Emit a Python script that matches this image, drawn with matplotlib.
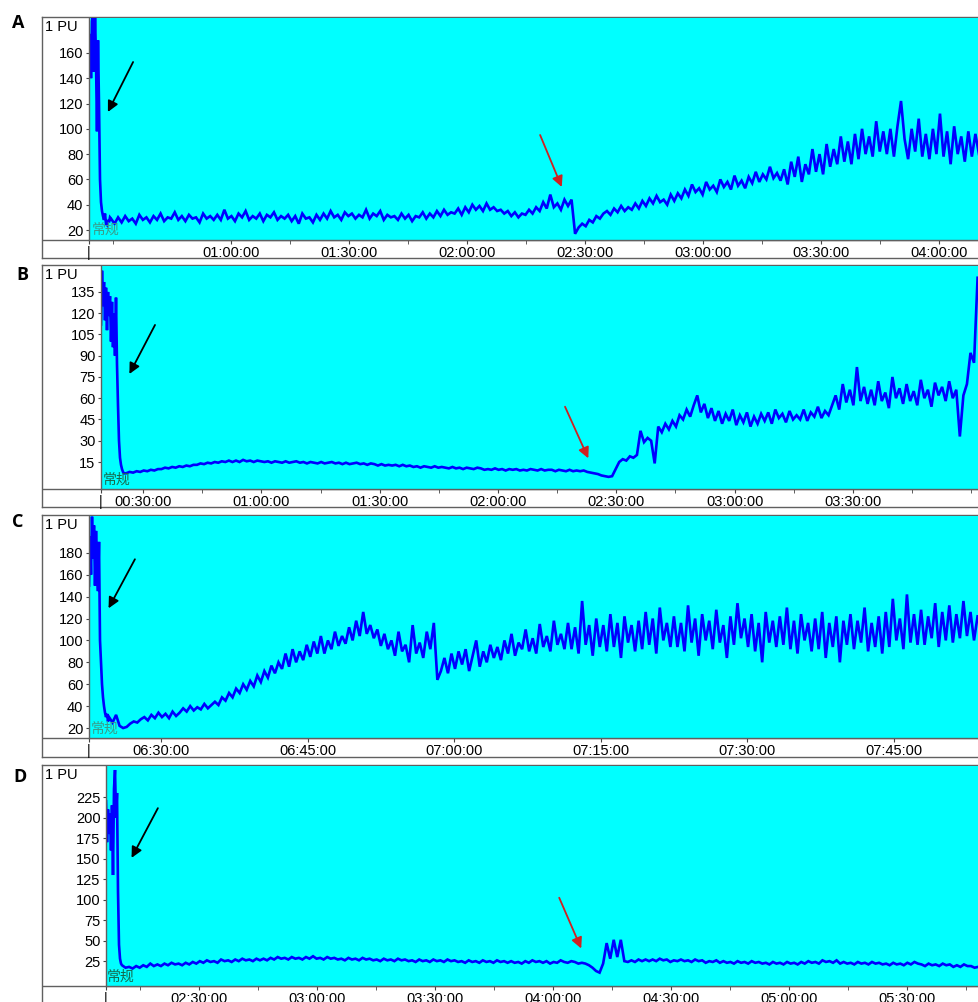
import numpy as np
import matplotlib.pyplot as plt

plt.rcParams['font.family'] = ['Liberation Sans', 'DejaVu Sans']

W, H = 979, 1002

#################################################################################
# Data: PU values (time axis in minutes)
#################################################################################

# ---- A ----
a_start, a_head_step, a_body_step = 24.0, 0.254, 0.9
a_head = [150, 175, 140, 185, 190, 145, 190, 155, 98, 170, 120, 60, 42, 35, 31,
          28, 33, 25, 24, 28, 26, 30]
a_body = [29, 25, 30, 26, 31, 27, 29, 25, 32, 28,
          30, 26, 31, 28, 33, 27, 30, 29, 34, 28,
          31, 27, 32, 29, 30, 26, 33, 29, 31, 28,
          32, 28, 36, 29, 31, 27, 33, 30, 35, 28,
          31, 29, 33, 27, 32, 30, 34, 28, 31, 29,
          32, 27, 31, 25, 33, 29, 30, 26, 32, 28,
          33, 29, 35, 30, 32, 28, 34, 31, 33, 29,
          32, 30, 36, 29, 33, 31, 35, 28, 32, 30,
          31, 28, 33, 29, 32, 27, 31, 30, 34, 29,
          33, 30, 35, 31, 36, 32, 34, 33, 37, 32,
          38, 34, 40, 36, 39, 35, 41, 36, 38, 35,
          36, 33, 35, 31, 34, 30, 33, 32, 36, 33,
          38, 35, 42, 37, 48, 38, 41, 36, 44, 39,
          44, 17, 22, 25, 23, 28, 26, 31, 29, 33,
          35, 32, 37, 34, 39, 35, 38, 36, 41, 37,
          43, 39, 45, 41, 47, 42, 44, 40, 48, 43,
          49, 45, 52, 47, 56, 50, 53, 48, 58, 52,
          55, 50, 60, 54, 58, 52, 63, 55, 59, 53,
          62, 57, 66, 58, 64, 60, 70, 61, 65, 59,
          68, 56, 74, 62, 78, 58, 72, 64, 84, 66,
          80, 64, 88, 70, 84, 72, 94, 74, 90, 72,
          96, 76, 100, 80, 94, 78, 106, 82, 98, 80,
          100, 78, 102, 122, 92, 76, 100, 82, 108, 78,
          96, 76, 100, 80, 112, 78, 98, 72, 102, 80,
          94, 74, 98, 78, 96, 80]

# ---- B ----
b_start, b_head_step, b_body_step = 19.3, 0.2536, 0.9
b_head = [112, 150, 125, 142, 115, 138, 108, 135, 118, 132, 100, 128, 96, 120,
          90, 131, 84, 55, 30, 18, 13, 10, 8, 7, 7]
b_body = [7, 8, 7.5, 8.5, 8, 9, 8.5, 9.5, 9, 10,
          10, 11, 10.5, 11.5, 11, 12, 11.5, 12.5, 12, 13,
          13, 14, 13.5, 14.5, 14, 15, 14.5, 15.5, 15, 16,
          15, 16, 15, 16.5, 15.5, 16, 15, 16, 15.5, 15,
          15.5, 14.5, 15.5, 15, 14.5, 15.5, 14.5, 15, 15.5, 14.5,
          15, 14, 15, 14.5, 14, 15, 14, 14.5, 15, 14,
          14.5, 13.5, 14.5, 13.5, 14, 14.5, 13.5, 14, 13, 14,
          13.5, 12.5, 13.5, 12.5, 13, 12.5, 13, 12, 13, 12,
          12.5, 11.5, 12, 11, 12, 11.5, 11, 12, 11, 11.5,
          11, 10.5, 11.5, 10.5, 11, 10, 11, 10.5, 10, 11,
          10.5, 9.5, 10, 9.5, 10.5, 9.5, 10, 9, 10, 9.5,
          10, 9, 9.5, 9, 10, 9.5, 9, 10, 9, 9.5,
          9.5, 8.5, 9.5, 9, 8.5, 9.5, 8.5, 9, 8.5, 9,
          8, 7.5, 7, 6.5, 5.5, 5, 4.5, 5, 10, 15,
          17, 16, 19, 18, 20, 37, 29, 32, 30, 14,
          40, 36, 42, 38, 44, 40, 48, 45, 52, 47,
          55, 62, 50, 56, 46, 53, 44, 51, 42, 49,
          44, 52, 41, 48, 43, 50, 40, 47, 42, 49,
          44, 50, 42, 52, 46, 49, 43, 51, 45, 48,
          45, 52, 44, 50, 47, 54, 46, 51, 48, 55,
          62, 52, 70, 57, 66, 55, 82, 58, 68, 56,
          66, 55, 72, 58, 64, 53, 75, 60, 67, 56,
          70, 58, 65, 55, 73, 60, 66, 54, 71, 62,
          68, 58, 72, 60, 66, 33, 62, 70, 92, 85,
          145]

# ---- C ----
c_start, c_head_step, c_body_step = 382.6, 0.1024, 0.3614
c_head = [150, 195, 160, 213, 175, 205, 150, 200, 165, 145, 190, 100, 80, 60,
          48, 40, 34, 30, 33, 26]
c_body = [30, 25, 32, 22, 20, 21, 24, 26, 25, 28,
          30, 27, 32, 29, 34, 30, 33, 29, 35, 31,
          34, 38, 35, 40, 36, 39, 37, 42, 38, 41,
          44, 41, 48, 45, 52, 48, 56, 52, 60, 55,
          63, 58, 68, 62, 72, 66, 77, 70, 80, 74,
          88, 76, 92, 80, 90, 82, 96, 85, 99, 88,
          104, 88, 100, 92, 108, 95, 104, 97, 112, 100,
          118, 104, 126, 106, 114, 102, 110, 95, 106, 92,
          100, 86, 108, 90, 96, 80, 114, 88, 98, 84,
          108, 92, 116, 64, 72, 84, 70, 88, 74, 90,
          78, 92, 72, 86, 100, 76, 90, 80, 96, 84,
          94, 82, 100, 88, 106, 86, 98, 92, 110, 90,
          102, 88, 115, 94, 104, 90, 118, 96, 106, 92,
          116, 92, 112, 88, 136, 96, 114, 86, 120, 94,
          114, 90, 124, 94, 116, 84, 122, 98, 114, 90,
          118, 92, 126, 96, 120, 88, 130, 100, 116, 94,
          122, 94, 116, 90, 132, 98, 120, 86, 124, 100,
          118, 92, 128, 98, 114, 84, 122, 96, 134, 102,
          120, 94, 124, 90, 116, 80, 126, 98, 118, 94,
          122, 96, 130, 92, 118, 88, 124, 100, 116, 90,
          120, 92, 126, 84, 116, 94, 122, 80, 118, 96,
          124, 92, 118, 98, 130, 90, 116, 94, 122, 88,
          126, 94, 138, 100, 120, 92, 142, 98, 124, 96,
          128, 96, 122, 102, 134, 94, 126, 100, 132, 98,
          124, 102, 136, 104, 126, 100, 122]

# ---- D ----
d_start, d_head_step, d_body_step = 126.3, 0.2545, 0.9
d_head = [220, 170, 210, 180, 205, 160, 215, 130, 235, 258, 200, 230, 110, 45,
          28, 22]
d_body = [20, 17, 18, 16, 19, 17, 20, 18, 22, 19,
          21, 19, 22, 20, 23, 21, 22, 20, 23, 21,
          24, 22, 25, 23, 26, 24, 25, 23, 27, 25,
          26, 24, 27, 25, 28, 26, 27, 25, 28, 26,
          28, 26, 29, 27, 30, 28, 29, 27, 30, 28,
          29, 27, 30, 28, 31, 28, 29, 27, 30, 28,
          29, 27, 28, 26, 29, 27, 28, 26, 29, 27,
          28, 26, 27, 25, 28, 26, 27, 25, 28, 26,
          27, 25, 26, 24, 27, 25, 26, 24, 27, 25,
          26, 24, 27, 25, 26, 24, 25, 23, 26, 24,
          25, 23, 26, 24, 25, 23, 26, 24, 25, 23,
          25, 23, 24, 22, 25, 23, 26, 24, 25, 23,
          25, 22, 24, 23, 26, 24, 23, 25, 24, 22,
          23, 22, 20, 17, 13, 11, 22, 47, 28, 51,
          30, 51, 25, 24, 26, 24, 27, 25, 27, 25,
          27, 25, 28, 26, 27, 24, 26, 25, 27, 25,
          26, 24, 27, 25, 26, 23, 25, 24, 26, 23,
          25, 23, 24, 22, 25, 23, 24, 22, 25, 23,
          24, 22, 23, 21, 24, 22, 23, 21, 24, 22,
          23, 21, 24, 22, 25, 23, 24, 22, 26, 24,
          25, 23, 26, 22, 24, 22, 23, 21, 24, 22,
          23, 21, 24, 22, 23, 21, 22, 20, 23, 21,
          22, 20, 23, 21, 24, 22, 21, 19, 22, 20,
          21, 19, 22, 20, 21, 18, 20, 18, 21, 19,
          19, 17, 18]

# y ticks per panel
a_yticks = [20, 40, 60, 80, 100, 120, 140, 160]
b_yticks = [15, 30, 45, 60, 75, 90, 105, 120, 135]
c_yticks = [20, 40, 60, 80, 100, 120, 140, 160, 180]
d_yticks = [25, 50, 75, 100, 125, 150, 175, 200, 225]

# labelled time ticks (minutes) and unlabelled ones
a_xlab = [60, 90, 120, 150, 180, 210, 240]
a_xmin = [30, 75, 105, 135, 165, 195, 225]
b_xlab = [30, 60, 90, 120, 150, 180, 210]
b_xmin = [45, 75, 105, 135, 165, 195, 225, 240]
c_xlab = [390, 405, 420, 435, 450, 465]
c_xmin = []
d_xlab = [150, 180, 210, 240, 270, 300, 330]
d_xmin = [135, 165, 195, 225, 255, 285, 315, 345]

# arrows (tail, head) in data units
a_arrows = [((35.2, 152.8), (28.8, 113.3), 'black'), ((138.6, 95.1), (144.1, 54.0), '#d02020')]
b_arrows = [((33.0, 111.7), (26.5, 77.1), 'black'), ((137.0, 54.0), (142.9, 17.6), '#d02020')]
c_arrows = [((387.3, 174.1), (384.6, 129.3), 'black')]
d_arrows = [((139.5, 211.5), (132.8, 150.9), 'black'), ((241.6, 102.3), (247.2, 40.4), '#d02020')]

#################################################################################
# Layout (pixels): box top/bottom, plot left/top/bottom, x/y limits
#################################################################################
panels = [
    dict(letter='A', lpos=(18, 23), box=(17, 258), cyan=(89, 18, 240),
         start=a_start, hs=a_head_step, bs=a_body_step, head=a_head, body=a_body,
         xlim=(24.0, 250.1), ylim=(12.1, 187.6), yt=a_yticks, xl=a_xlab, xm=a_xmin,
         arrows=a_arrows, tag=(92, 230), tagc='#3a9a88'),
    dict(letter='B', lpos=(22, 275), box=(265, 507), cyan=(101, 266, 489),
         start=b_start, hs=b_head_step, bs=b_body_step, head=b_head, body=b_body,
         xlim=(19.3, 242.0), ylim=(-4.05, 153.3), yt=b_yticks, xl=b_xlab, xm=b_xmin,
         arrows=b_arrows, tag=(103, 480), tagc='#17684c'),
    dict(letter='C', lpos=(18, 522), box=(515, 757), cyan=(89, 516, 738),
         start=c_start, hs=c_head_step, bs=c_body_step, head=c_head, body=c_body,
         xlim=(382.6, 473.7), ylim=(10.9, 213.6), yt=c_yticks, xl=c_xlab, xm=c_xmin,
         arrows=c_arrows, tag=(91, 729), tagc='#3a9a88'),
    dict(letter='D', lpos=(20, 777), box=(765, 1015), cyan=(106, 766, 986),
         start=d_start, hs=d_head_step, bs=d_body_step, head=d_head, body=d_body,
         xlim=(126.3, 348.4), ylim=(-5.3, 262.9), yt=d_yticks, xl=d_xlab, xm=d_xmin,
         arrows=d_arrows, tag=(107, 977), tagc='#17684c'),
]


def hms(m):
    return f"{int(m // 60):02d}:{int(m % 60):02d}:00"


fig = plt.figure(figsize=(W / 100, H / 100), dpi=100)
edge = '#606060'

for p in panels:
    btop, bbot = p['box']
    cl, ct, cb = p['cyan']

    # white outer frame
    fr = fig.add_axes([42 / W, 1 - bbot / H, (995 - 42) / W, (bbot - btop) / H])
    fr.set_xlim(0, 1)
    fr.set_ylim(0, 1)
    fr.set_xticks([])
    fr.set_yticks([])
    for s in fr.spines.values():
        s.set_color(edge)
        s.set_linewidth(1.0)
    fr.axhline((bbot - cb) / (bbot - btop), color=edge, lw=1.0)

    # cyan plot area
    ax = fig.add_axes([cl / W, 1 - cb / H, (979 - cl) / W, (cb - ct) / H])
    ax.set_facecolor('#00ffff')
    for side in ['top', 'right']:
        ax.spines[side].set_visible(False)
    for side in ['left', 'bottom']:
        ax.spines[side].set_color(edge)
        ax.spines[side].set_linewidth(1.0)

    head = np.array(p['head'], dtype=float)
    body = np.array(p['body'], dtype=float)
    t_head = p['start'] + p['hs'] * np.arange(len(head))
    t_body = t_head[-1] + p['hs'] + p['bs'] * np.arange(len(body))
    t = np.concatenate([t_head, t_body])
    v = np.concatenate([head, body])
    ax.plot(t, v, color='#0000ff', lw=1.9, solid_joinstyle='miter')

    ax.set_xlim(*p['xlim'])
    ax.set_ylim(*p['ylim'])

    ax.set_yticks(p['yt'])
    ax.tick_params(axis='y', direction='out', length=2.5, pad=1.5,
                   labelsize=10.5, color='#444444')
    ax.set_xticks([p['xlim'][0]] + p['xl'])
    ax.set_xticklabels(['|'] + [hms(m) for m in p['xl']])
    ax.set_xticks(p['xm'], minor=True)
    ax.tick_params(axis='x', which='both', direction='out', length=3, pad=1,
                   labelsize=10.5, color='#444444')

    for tail, tip, col in p['arrows']:
        ax.annotate('', xy=tip, xytext=tail,
                    arrowprops=dict(arrowstyle='-|>', color=col, lw=1.3,
                                    mutation_scale=16, shrinkA=0, shrinkB=0))

    fig.text(45 / W, 1 - (btop + 10) / H, '1 PU', fontsize=10.5, ha='left', va='center')
    fig.text(p['lpos'][0] / W, 1 - p['lpos'][1] / H, p['letter'], fontsize=13,
             fontweight='bold', family=['Open Sans', 'DejaVu Sans'],
             ha='center', va='center')
    fig.text(p['tag'][0] / W, 1 - p['tag'][1] / H, '常规', fontsize=10,
             family=['Noto Sans CJK SC'], color=p['tagc'], ha='left', va='center')

fig.savefig('out.png', dpi=100)
